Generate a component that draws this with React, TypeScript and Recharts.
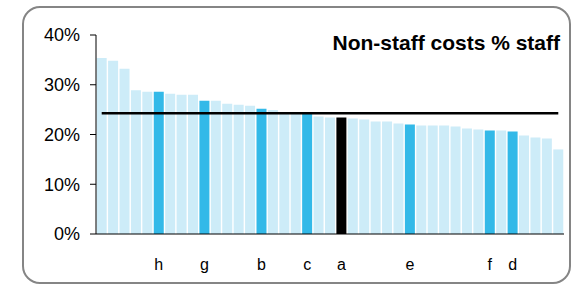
import React from "react";
import { BarChart, Bar, XAxis, YAxis, Cell, ReferenceLine } from "recharts";

// one value per organisation, sorted high to low
const values = [
	35.4, 34.8, 33.2, 28.9, 28.6, 28.6, 28.2, 28.0, 28.0, 26.8, 26.8, 26.2, 26.0, 25.8,
	25.2, 24.9, 24.5, 24.4, 24.3, 23.6, 23.4, 23.4, 23.2, 23.0, 22.6, 22.6, 22.2, 22.0,
	21.8, 21.8, 21.8, 21.6, 21.2, 21.0, 20.8, 20.8, 20.6, 19.8, 19.4, 19.2, 17.0,
];

// labels under the highlighted bars, blank elsewhere
const labels = [
	"", "", "", "", "", "h", "", "", "", "g", "", "", "", "",
	"b", "", "", "", "c", "", "", "a", "", "", "", "", "", "e",
	"", "", "", "", "", "", "f", "", "d", "", "", "", "",
];

const yTicks = [0, 10, 20, 30, 40];
const average = 24.25;
const ownLabel = "a";

const LIGHT = "#CDECF8";
const HIGHLIGHT = "#33B9E8";
const FONT = "'Liberation Sans', Arial, sans-serif";

const data = values.map((v, i) => ({ id: String(i + 1), label: labels[i], value: v }));

const XTick = (props: any) => {
	const { x, y, payload } = props;
	const lbl = labels[Number(payload.value) - 1];
	return (
		<text x={x} y={y + 28} textAnchor="middle" fill="#000" fontSize={16} fontFamily={FONT}>
			{lbl}
		</text>
	);
};

const App = () => {
	return (
		<div style={{ position: "absolute", left: 0, top: 0, width: 573, height: 285, background: "#fff" }}>
			<div
				style={{
					position: "absolute",
					left: 22,
					top: 6,
					width: 549,
					height: 278,
					boxSizing: "border-box",
					border: "2px solid #858585",
					borderRadius: 18,
				}}
			/>
			<BarChart
				width={573}
				height={285}
				data={data}
				margin={{ top: 35, right: 9, bottom: 0, left: 0 }}
				barCategoryGap="6%"
			>
				<XAxis
					dataKey="id"
					interval={0}
					tickLine={false}
					stroke="#000"
					height={51}
					tick={XTick}
				/>
				<YAxis
					width={96}
					domain={[0, 40]}
					ticks={yTicks}
					tickFormatter={(v) => `${v}%`}
					tickSize={6}
					tickMargin={10}
					stroke="#000"
					tick={{ fill: "#000", fontSize: 18, fontFamily: FONT }}
				/>
				<Bar dataKey="value" isAnimationActive={false}>
					{data.map((d, i) => (
						<Cell key={i} fill={d.label === ownLabel ? "#000" : d.label ? HIGHLIGHT : LIGHT} />
					))}
				</Bar>
				<ReferenceLine
					segment={[
						{ x: data[0].id, y: average },
						{ x: data[data.length - 1].id, y: average },
					]}
					stroke="#000"
					strokeWidth={2.5}
				/>
			</BarChart>
			<div
				style={{
					position: "absolute",
					right: 13,
					top: 32,
					lineHeight: "22px",
					fontFamily: FONT,
					fontWeight: "bold",
					fontSize: 21,
					color: "#000",
				}}
			>
				Non-staff costs % staff
			</div>
		</div>
	);
};

export default App;
